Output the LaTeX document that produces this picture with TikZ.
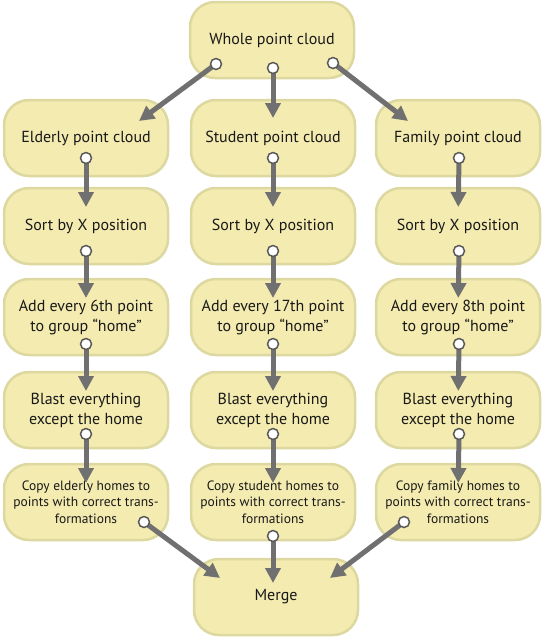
\documentclass[tikz,border=0pt]{standalone}
\usepackage{fontspec}
\setmainfont{PT Sans}
\usetikzlibrary{arrows.meta}

\definecolor{boxfill}{HTML}{F4EBB0}
\definecolor{boxline}{HTML}{DCD8A0}
\definecolor{arrowgray}{HTML}{707070}
\definecolor{portline}{HTML}{5A5A5A}

\tikzset{
	box/.style={draw=boxline, fill=boxfill, line width=2.5pt, rounded corners=25pt, minimum width=164pt, minimum height=76pt, align=center, text=black!90, font=\fontsize{16}{20}\selectfont},
	smallbox/.style={box, font=\fontsize{13.5}{16.5}\selectfont},
	flow/.style={draw=arrowgray, line width=5pt, -{Triangle[width=15pt,length=15pt]}},
	down/.style={flow, shorten >=19pt},
	port/.style={draw=portline, fill=white, line width=1.5pt}
}

\begin{document}
\begin{tikzpicture}[x=1pt, y=-1pt]
	\useasboundingbox (0,0) rectangle (544,638);

	\node[box] (whole) at (272,40) {Whole point cloud};

	\node[box] (elderly) at (86,138) {Elderly point cloud};
	\node[box] (student) at (273,138) {Student point cloud};
	\node[box] (family) at (458,138) {Family point cloud};

	\node[box] (sortE) at (86,226) {Sort by X position};
	\node[box] (sortS) at (273,226) {Sort by X position};
	\node[box] (sortF) at (458,226) {Sort by X position};

	\node[box] (addE) at (86,317) {Add every 6th point\\to group “home”};
	\node[box] (addS) at (273,317) {Add every 17th point\\to group “home”};
	\node[box] (addF) at (458,317) {Add every 8th point\\to group “home”};

	\node[box] (blastE) at (86,410) {Blast everything\\except the home};
	\node[box] (blastS) at (273,410) {Blast everything\\except the home};
	\node[box] (blastF) at (458,410) {Blast everything\\except the home};

	\node[smallbox] (copyE) at (86,502) {Copy elderly homes to\\points with correct trans-\\formations};
	\node[smallbox] (copyS) at (273,502) {Copy student homes to\\points with correct trans-\\formations};
	\node[smallbox] (copyF) at (458,502) {Copy family homes to\\points with correct trans-\\formations};

	\node[box] (merge) at (276,597) {Merge};

	\coordinate (pWE) at (216,64);
	\coordinate (pWS) at (273,68);
	\coordinate (pWF) at (333,63);
	\coordinate (pE1) at (86,158);
	\coordinate (pS1) at (273,158);
	\coordinate (pF1) at (459,158);
	\coordinate (pE2) at (86,251);
	\coordinate (pS2) at (273,251);
	\coordinate (pF2) at (459,251);
	\coordinate (pE3) at (86,344);
	\coordinate (pS3) at (273,344);
	\coordinate (pF3) at (459,344);
	\coordinate (pE4) at (86,434);
	\coordinate (pS4) at (273,434);
	\coordinate (pF4) at (459,434);
	\coordinate (pE5) at (144,522);
	\coordinate (pS5) at (273,536);
	\coordinate (pF5) at (404,522);

	\coordinate (tE) at (139,121);
	\coordinate (tF) at (408,121);
	\coordinate (tME) at (220,578);
	\coordinate (tMS) at (273,583);
	\coordinate (tMF) at (330,578);

	\draw[flow] (pWE) -- (tE);
	\draw[down, shorten >=20pt] (pWS) -- (student.center);
	\draw[flow] (pWF) -- (tF);

	\draw[down] (pE1) -- (sortE.center);
	\draw[down] (pS1) -- (sortS.center);
	\draw[down] (pF1) -- (sortF.center);
	\draw[down] (pE2) -- (addE.center);
	\draw[down] (pS2) -- (addS.center);
	\draw[down] (pF2) -- (addF.center);
	\draw[down] (pE3) -- (blastE.center);
	\draw[down] (pS3) -- (blastS.center);
	\draw[down] (pF3) -- (blastF.center);
	\draw[down] (pE4) -- (copyE.center);
	\draw[down] (pS4) -- (copyS.center);
	\draw[down] (pF4) -- (copyF.center);

	\draw[flow] (pE5) -- (tME);
	\draw[flow] (pS5) -- (tMS);
	\draw[flow] (pF5) -- (tMF);

	\draw[port] (pWE) circle (5.5pt);
	\draw[port] (pWS) circle (5.5pt);
	\draw[port] (pWF) circle (5.5pt);
	\draw[port] (pE1) circle (5.5pt);
	\draw[port] (pS1) circle (5.5pt);
	\draw[port] (pF1) circle (5.5pt);
	\draw[port] (pE2) circle (5.5pt);
	\draw[port] (pS2) circle (5.5pt);
	\draw[port] (pF2) circle (5.5pt);
	\draw[port] (pE3) circle (5.5pt);
	\draw[port] (pS3) circle (5.5pt);
	\draw[port] (pF3) circle (5.5pt);
	\draw[port] (pE4) circle (5.5pt);
	\draw[port] (pS4) circle (5.5pt);
	\draw[port] (pF4) circle (5.5pt);
	\draw[port] (pE5) circle (5.5pt);
	\draw[port] (pS5) circle (5.5pt);
	\draw[port] (pF5) circle (5.5pt);
\end{tikzpicture}
\end{document}
